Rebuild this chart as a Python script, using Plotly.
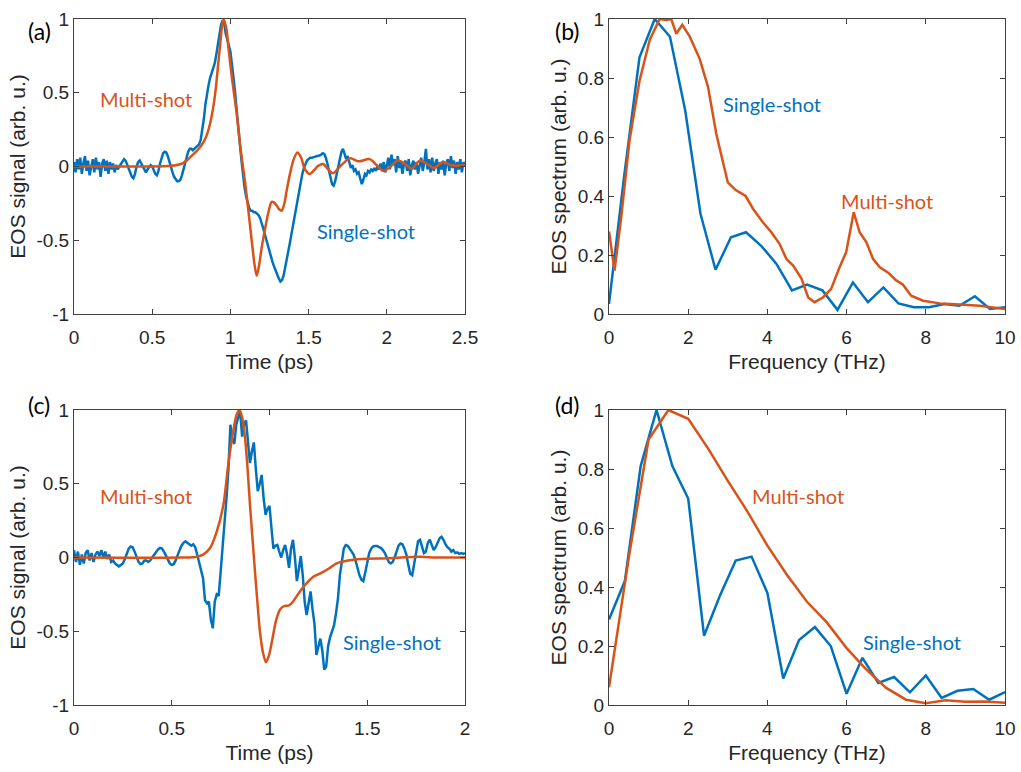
import numpy as np
import plotly.graph_objects as go

BLUE = "#0072BD"
ORANGE = "#D95319"
AXIS = "#404040"
TEXT = "#262626"

# ---------------- (a) time-domain traces ----------------
t_a_single = np.round(np.arange(0, 2.5001, 0.01), 2)
s_a_single = [
    0.03, -0.04, 0.05, -0.02, 0.06, -0.05, 0.02, 0.07, -0.03, 0.04,
    -0.06, 0.01, 0.05, -0.04, 0.06, -0.02, 0.03, -0.07, 0.02, 0.05,
    -0.03, 0.04, -0.05, 0.03, -0.02, 0.02, -0.04, 0.01, -0.02, 0.00,
    0.02, 0.04, 0.05, 0.04, 0.01, -0.02, -0.05, -0.07, -0.08, -0.05,
    0.00, 0.03, 0.04, 0.02, -0.01, -0.03, -0.04, -0.02, 0.00, 0.01,
    0.00, -0.03, -0.05, -0.06, -0.03, 0.02, 0.06, 0.09, 0.10, 0.095,
    0.07, 0.03, -0.01, -0.04, -0.07, -0.09, -0.10, -0.10, -0.09, -0.06,
    -0.02, 0.03, 0.07, 0.10, 0.12, 0.12, 0.11, 0.12, 0.13, 0.14,
    0.15, 0.18, 0.24, 0.32, 0.42, 0.50, 0.55, 0.60, 0.63, 0.66,
    0.70, 0.76, 0.83, 0.90, 0.96, 0.99, 0.97, 0.90, 0.85, 0.82,
    0.78, 0.70, 0.60, 0.50, 0.40, 0.28, 0.16, 0.05, -0.06, -0.14,
    -0.20, -0.25, -0.28, -0.30, -0.30, -0.31, -0.31, -0.32, -0.33, -0.35,
    -0.38, -0.42, -0.46, -0.50, -0.54, -0.58, -0.62, -0.65, -0.68, -0.71,
    -0.74, -0.76, -0.78, -0.77, -0.74, -0.69, -0.64, -0.58, -0.52, -0.46,
    -0.40, -0.34, -0.28, -0.22, -0.16, -0.10, -0.05, -0.01, 0.02, 0.04,
    0.05, 0.06, 0.06, 0.06, 0.065, 0.07, 0.07, 0.075, 0.08, 0.09,
    0.085, 0.06, 0.02, -0.03, -0.08, -0.12, -0.13, -0.10, -0.05, 0.00,
    0.05, 0.10, 0.12, 0.08, 0.05, 0.07, 0.02, -0.01, 0.01, -0.03,
    -0.02, -0.05, -0.04, -0.08, -0.12, -0.09, -0.05, -0.06, -0.03, -0.04,
    -0.02, -0.03, -0.01, -0.03, 0.00, -0.02, 0.02, -0.03, 0.03, -0.04,
    0.02, 0.06, -0.02, 0.08, 0.01, 0.05, -0.04, 0.07, -0.01, 0.03,
    -0.05, 0.02, 0.04, -0.03, 0.05, -0.06, 0.01, 0.04, -0.02, 0.03,
    -0.05, 0.02, 0.06, -0.03, 0.03, 0.12, -0.02, 0.05, -0.04, 0.06,
    -0.03, 0.02, 0.05, -0.05, 0.03, -0.02, 0.04, -0.06, 0.02, 0.05,
    -0.03, 0.07, -0.01, 0.04, -0.05, 0.03, -0.02, 0.05, -0.04, 0.03,
    0.01,
]
t_a_multi = [
    0.0, 0.5, 0.6, 0.65, 0.7, 0.742, 0.775, 0.806, 0.84, 0.87, 0.9, 0.933,
    0.955, 0.975, 0.987, 1.01, 1.04, 1.065, 1.093, 1.115, 1.136, 1.155,
    1.168, 1.182, 1.2, 1.222, 1.243, 1.264, 1.28, 1.296, 1.312, 1.328,
    1.345, 1.362, 1.381, 1.405, 1.428, 1.452, 1.477, 1.509, 1.535, 1.562,
    1.594, 1.625, 1.656, 1.71, 1.765, 1.82, 1.89, 1.935, 1.98, 2.025,
    2.07, 2.115, 2.16, 2.21, 2.255, 2.3, 2.36, 2.41, 2.45, 2.5,
]
s_a_multi = [
    0.0, 0.0, 0.003, 0.008, 0.025, 0.062, 0.095, 0.13, 0.19, 0.29, 0.47, 0.81,
    1.0, 0.93, 0.81, 0.6, 0.36, 0.12, -0.1, -0.3, -0.5, -0.67,
    -0.74, -0.68, -0.55, -0.42, -0.31, -0.24, -0.245, -0.265, -0.29, -0.30,
    -0.25, -0.15, -0.05, 0.05, 0.095, 0.06, -0.02, -0.05, -0.025, 0.005,
    0.017, -0.02, -0.045, 0.01, 0.055, 0.035, 0.05, 0.01, -0.03, 0.0,
    0.04, 0.02, -0.015, 0.04, 0.02, -0.01, 0.03, 0.01, 0.005, 0.01,
]

# ---------------- (b) spectra ----------------
f_b_single = [0.0, 0.385, 0.77, 1.155, 1.54, 1.925, 2.31, 2.69, 3.08, 3.46,
              3.85, 4.23, 4.62, 5.0, 5.39, 5.77, 6.16, 6.54, 6.93, 7.31,
              7.7, 8.08, 8.47, 8.85, 9.24, 9.62, 10.0]
p_b_single = [0.034, 0.47, 0.87, 1.0, 0.94, 0.69, 0.34, 0.15, 0.26, 0.277,
              0.23, 0.17, 0.08, 0.1, 0.08, 0.014, 0.107, 0.04, 0.09, 0.036,
              0.023, 0.023, 0.034, 0.028, 0.06, 0.017, 0.023]
f_b_multi = [0.0, 0.14, 0.31, 0.52, 0.77, 1.03, 1.28, 1.45, 1.57, 1.7,
             1.85, 2.04, 2.29, 2.5, 2.71, 2.86, 3.0, 3.2, 3.45, 3.64,
             3.89, 4.1, 4.31, 4.48, 4.65, 4.86, 5.03, 5.19, 5.4, 5.61,
             5.82, 5.99, 6.18, 6.33, 6.5, 6.67, 6.84, 7.05, 7.26, 7.42,
             7.63, 7.93, 8.35, 8.85, 9.36, 10.0]
p_b_multi = [0.28, 0.147, 0.33, 0.59, 0.79, 0.93, 1.0, 0.997, 1.0, 0.95,
             0.98, 0.94, 0.865, 0.77, 0.61, 0.53, 0.446, 0.42, 0.4, 0.356,
             0.31, 0.277, 0.237, 0.186, 0.164, 0.12, 0.056, 0.04, 0.056, 0.085,
             0.158, 0.21, 0.345, 0.277, 0.243, 0.186, 0.158, 0.14, 0.113, 0.1,
             0.062, 0.045, 0.036, 0.032, 0.028, 0.017]

# ---------------- (c) time-domain traces ----------------
t_c_single = np.round(np.arange(0, 2.0001, 0.01), 2)
s_c_single = [
    0.05, -0.03, 0.04, -0.05, 0.02, -0.04, 0.03, 0.05, -0.02, 0.03,
    -0.03, 0.02, 0.04, 0.01, 0.05, 0.00, 0.04, -0.01, 0.02, -0.03,
    -0.02, -0.04, -0.05, -0.06, -0.05, -0.04, -0.01, 0.03, 0.06, 0.075,
    0.07, 0.04, 0.00, -0.03, -0.045, -0.04, -0.02, -0.02, -0.03, -0.02,
    0.00, 0.02, 0.04, 0.055, 0.065, 0.06, 0.04, 0.01, -0.02, -0.04,
    -0.05, -0.045, -0.02, 0.02, 0.05, 0.08, 0.10, 0.11, 0.10, 0.09,
    0.08, 0.09, 0.07, 0.02, -0.03, -0.08, -0.14, -0.29, -0.31, -0.30,
    -0.42, -0.48, -0.30, -0.25, -0.26, -0.10, 0.10, 0.24, 0.40, 0.60,
    0.90, 0.80, 0.77, 0.90, 0.95, 0.99, 0.82, 0.90, 0.93, 0.78,
    0.64, 0.72, 0.78, 0.60, 0.45, 0.50, 0.56, 0.40, 0.29, 0.33,
    0.35, 0.20, 0.06, 0.08, 0.085, 0.04, 0.00, 0.05, 0.085, 0.02,
    -0.07, 0.06, 0.12, 0.00, -0.16, -0.08, 0.01, -0.12, -0.30, -0.39,
    -0.30, -0.23, -0.35, -0.45, -0.66, -0.60, -0.55, -0.63, -0.76, -0.74,
    -0.60, -0.54, -0.50, -0.46, -0.38, -0.28, -0.12, -0.01, 0.06, 0.085,
    0.08, 0.06, 0.04, 0.02, -0.02, -0.07, -0.12, -0.15, -0.16, -0.10,
    -0.02, 0.03, 0.06, 0.075, 0.078, 0.078, 0.07, 0.065, 0.05, 0.03,
    0.00, -0.03, -0.04, -0.03, 0.00, 0.04, 0.08, 0.095, 0.09, 0.06,
    0.02, -0.05, -0.11, -0.12, -0.05, 0.04, 0.11, 0.12, 0.08, 0.03,
    0.04, 0.10, 0.12, 0.08, 0.05, 0.07, 0.10, 0.13, 0.14, 0.12,
    0.09, 0.07, 0.06, 0.04, 0.05, 0.03, 0.035, 0.025, 0.03, 0.025,
    0.03,
]
t_c_multi = [
    0.0, 0.55, 0.62, 0.66, 0.696, 0.73, 0.764, 0.789, 0.815, 0.832, 0.846,
    0.86, 0.875, 0.888, 0.9, 0.913, 0.926, 0.938, 0.951, 0.966, 0.982,
    0.998, 1.015, 1.035, 1.055, 1.075, 1.1, 1.12, 1.14, 1.173, 1.2,
    1.224, 1.258, 1.306, 1.343, 1.43, 1.6, 1.77, 1.85, 2.0,
]
s_c_multi = [
    0.0, 0.0, 0.004, 0.02, 0.064, 0.175, 0.356, 0.63, 0.86, 0.97, 1.0,
    0.95, 0.81, 0.6, 0.36, 0.13, -0.1, -0.3, -0.5, -0.64, -0.71,
    -0.66, -0.55, -0.42, -0.35, -0.33, -0.325, -0.3, -0.26, -0.2, -0.16,
    -0.13, -0.11, -0.073, -0.04, -0.015, -0.005, 0.005, 0.0, 0.0,
]

# ---------------- (d) spectra ----------------
f_d_single = [0.0, 0.4, 0.8, 1.2, 1.6, 2.0, 2.4, 2.8, 3.2, 3.6, 4.0, 4.4, 4.8,
              5.2, 5.6, 6.0, 6.4, 6.8, 7.2, 7.6, 8.0, 8.4, 8.8, 9.2, 9.6, 10.0]
p_d_single = [0.29, 0.42, 0.81, 1.0, 0.81, 0.70, 0.235, 0.37, 0.49, 0.503,
              0.38, 0.09, 0.22, 0.264, 0.2, 0.038, 0.16, 0.075, 0.095, 0.043,
              0.1, 0.024, 0.048, 0.054, 0.018, 0.044]
f_d_multi = [0.0, 0.5, 1.0, 1.5, 2.0, 2.5, 3.0, 3.5, 4.0, 4.5, 5.0, 5.5, 6.0,
             6.5, 7.0, 7.5, 8.0, 8.5, 9.0, 9.5, 10.0]
p_d_multi = [0.06, 0.5, 0.9, 1.0, 0.97, 0.87, 0.76, 0.655, 0.54, 0.44, 0.35,
             0.28, 0.193, 0.12, 0.058, 0.018, 0.006, 0.016, 0.011, 0.012, 0.008]

# ---------------- axis ticks ----------------
time_ticks_a = [0, 0.5, 1, 1.5, 2, 2.5]
time_ticks_c = [0, 0.5, 1, 1.5, 2]
signal_ticks = [-1, -0.5, 0, 0.5, 1]
freq_ticks = [0, 2, 4, 6, 8, 10]
spec_ticks = [0, 0.2, 0.4, 0.6, 0.8, 1]


def fmt(v):
    return "%g" % v


fig = go.Figure()

panels = [
    # (xaxis, yaxis, single x, single y, multi x, multi y, smooth multi-shot)
    ("x", "y", t_a_single, s_a_single, t_a_multi, s_a_multi, True),
    ("x2", "y2", f_b_single, p_b_single, f_b_multi, p_b_multi, False),
    ("x3", "y3", t_c_single, s_c_single, t_c_multi, s_c_multi, True),
    ("x4", "y4", f_d_single, p_d_single, f_d_multi, p_d_multi, False),
]
for xa, ya, xs, ys, xm, ym, smooth in panels:
    fig.add_trace(go.Scatter(x=xs, y=ys, xaxis=xa, yaxis=ya, mode="lines",
                             line=dict(color=BLUE, width=2.5),
                             showlegend=False))
    fig.add_trace(go.Scatter(x=xm, y=ym, xaxis=xa, yaxis=ya, mode="lines",
                             line=dict(color=ORANGE, width=2.5,
                                       shape="spline" if smooth else "linear",
                                       smoothing=0.8 if smooth else None),
                             showlegend=False))

tick_font = dict(family="Liberation Sans", size=19, color=TEXT)
title_font = dict(family="Liberation Sans", size=21, color=TEXT)


def xaxis(domain, rng, ticks, title, anchor):
    return dict(domain=domain, range=rng, anchor=anchor, automargin=False,
                tickvals=ticks, ticktext=[fmt(v) for v in ticks],
                ticks="inside", ticklen=5, tickwidth=1, tickcolor=AXIS,
                showline=True, linecolor=AXIS, linewidth=1, mirror="ticks",
                showgrid=False, zeroline=False, tickfont=tick_font,
                ticklabelstandoff=6,
                title=dict(text=title, font=title_font, standoff=7))


def yaxis(domain, rng, ticks, title, anchor):
    return dict(domain=domain, range=rng, anchor=anchor, automargin=False,
                tickvals=ticks, ticktext=[fmt(v) for v in ticks],
                ticks="inside", ticklen=5, tickwidth=1, tickcolor=AXIS,
                showline=True, linecolor=AXIS, linewidth=1, mirror="ticks",
                showgrid=False, zeroline=False, tickfont=tick_font,
                title=dict(text=title, font=title_font, standoff=5))


W, H = 1021, 772
xl = [74 / W, 465 / W]
xr = [609 / W, 1005 / W]
yt = [1 - 314 / H, 1 - 19 / H]
yb = [1 - 705 / H, 1 - 410 / H]

fig.update_layout(
    width=W, height=H,
    margin=dict(l=0, r=0, t=0, b=0),
    paper_bgcolor="white", plot_bgcolor="white",
    xaxis=xaxis(xl, [0, 2.5], time_ticks_a, "Time (ps)", "y"),
    yaxis=yaxis(yt, [-1, 1], signal_ticks, "EOS signal (arb. u.)", "x"),
    xaxis2=xaxis(xr, [0, 10], freq_ticks, "Frequency (THz)", "y2"),
    yaxis2=yaxis(yt, [0, 1], spec_ticks, "EOS spectrum (arb. u.)", "x2"),
    xaxis3=xaxis(xl, [0, 2], time_ticks_c, "Time (ps)", "y3"),
    yaxis3=yaxis(yb, [-1, 1], signal_ticks, "EOS signal (arb. u.)", "x3"),
    xaxis4=xaxis(xr, [0, 10], freq_ticks, "Frequency (THz)", "y4"),
    yaxis4=yaxis(yb, [0, 1], spec_ticks, "EOS spectrum (arb. u.)", "x4"),
)

label_font = "Lato, Calibri, sans-serif"
curve_labels = [
    ("x", "y", 0.46, 0.458, "Multi-shot", ORANGE),
    ("x", "y", 1.867, -0.437, "Single-shot", BLUE),
    ("x2", "y2", 4.12, 0.712, "Single-shot", BLUE),
    ("x2", "y2", 7.02, 0.383, "Multi-shot", ORANGE),
    ("x3", "y3", 0.368, 0.417, "Multi-shot", ORANGE),
    ("x3", "y3", 1.627, -0.573, "Single-shot", BLUE),
    ("x4", "y4", 4.76, 0.708, "Multi-shot", ORANGE),
    ("x4", "y4", 7.65, 0.214, "Single-shot", BLUE),
]
for xr_, yr_, x, y, txt, col in curve_labels:
    fig.add_annotation(x=x, y=y, xref=xr_, yref=yr_, text=txt, showarrow=False,
                       font=dict(family=label_font, size=20, color=col))

panel_tags = [(26, 15, "(a)"), (567, 15, "(b)"), (26, 405, "(c)"), (567, 405, "(d)")]
for px, py, tag in panel_tags:
    fig.add_annotation(x=px / W, y=1 - py / H, xref="paper", yref="paper",
                       text=tag, showarrow=False,
                       font=dict(family=label_font, size=23, color="black"))

fig.write_html("out.html", post_script="document.body.style.margin='0';")
